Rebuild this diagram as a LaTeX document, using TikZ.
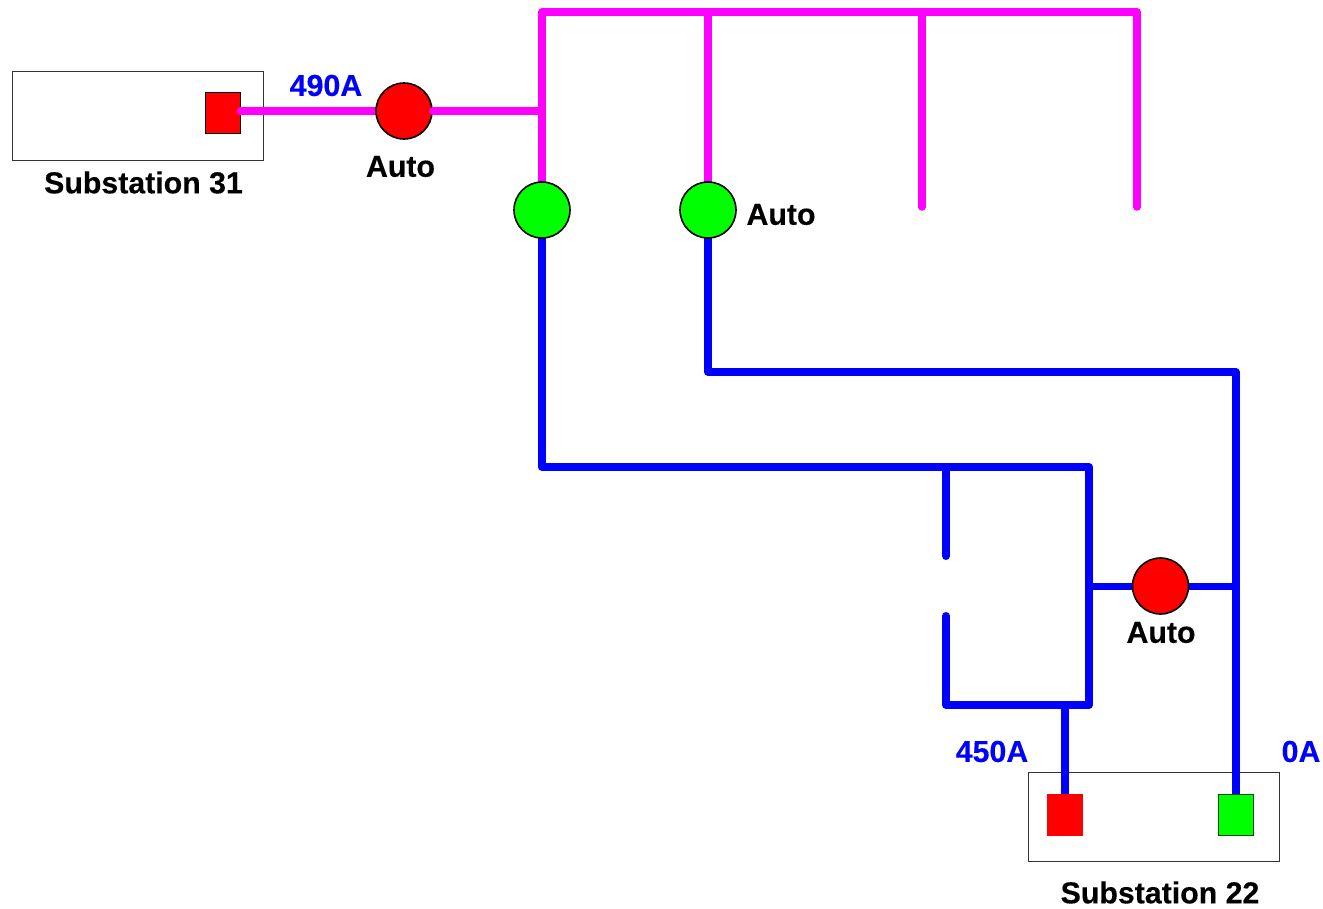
\documentclass[tikz,border=0pt]{standalone}
\usepackage{fontspec}
\usetikzlibrary{backgrounds}
\setmainfont[BoldFeatures={FakeBold=0.3}]{Liberation Sans}
\definecolor{busmagenta}{RGB}{255,0,255}

\begin{document}
\begin{tikzpicture}[x=1pt, y=-1pt,
        subbox/.style={draw=black!80, line width=0.8pt, minimum width=251pt, minimum height=89pt, inner sep=0pt},
        breaker/.style={draw=black, line width=1.6pt, circle, minimum size=56pt, inner sep=0pt},
        sqr/.style={line width=0.8pt, minimum width=35pt, minimum height=41pt, inner sep=0pt},
        feeder/.style={line width=7.5pt, line cap=round, line join=round},
        amps/.style={text=blue, font=\fontsize{30.3}{32}\selectfont\bfseries, inner sep=0pt},
        tag/.style={text=black, font=\fontsize{30.3}{32}\selectfont\bfseries, inner sep=0pt}
    ]
        \useasboundingbox (0,0) rectangle (1323,908);

        \node[sqr, draw=black, fill=red] (sq31) at (222.5,112.5) {};
        \node[sqr, draw=red, fill=red] (sq22a) at (1065,814.5) {};
        \node[sqr, draw=black!70!green, fill=green] (sq22b) at (1235.5,814.5) {};

        \node[breaker, fill=red] (auto31) at (404,111) {};
        \node[breaker, fill=green] (tie1) at (542,210) {};
        \node[breaker, fill=green] (tie2) at (708,210) {};
        \node[breaker, fill=red] (auto22) at (1160.5,586) {};

        \coordinate (topl) at (542,12);
        \coordinate (topa) at (708,12);
        \coordinate (topb) at (922,12);
        \coordinate (topc) at (1137,12);
        \coordinate (endb) at (922,207);
        \coordinate (endc) at (1137,207);
        \coordinate (feed) at (542,111);

        \coordinate (low1) at (542,467);
        \coordinate (low2) at (1089,467);
        \coordinate (low3) at (1089,705);
        \coordinate (low4) at (946,705);
        \coordinate (gap1) at (946,616);
        \coordinate (gap2) at (946,556);
        \coordinate (gap3) at (946,467);
        \coordinate (stem) at (1065,705);
        \coordinate (mid1) at (708,372);
        \coordinate (mid2) at (1235.5,372);
        \coordinate (tiel) at (1089,586);
        \coordinate (tier) at (1235.5,586);

        \begin{scope}[on background layer]
            \node[subbox] (sub31) at (137.5,115.5) {};
            \node[subbox] (sub22) at (1153.5,816.5) {};

            % magenta part
            \draw[feeder, busmagenta] (tie1.center) -- (topl) -- (topc) -- (endc);
            \draw[feeder, busmagenta] (topa) -- (tie2.center);
            \draw[feeder, busmagenta] (topb) -- (endb);
            \draw[feeder, busmagenta] (sq31.east |- auto31.center) -- (auto31.center);

            % blue part
            \draw[feeder, blue, line width=8pt] (tie1.center) -- (low1) -- (low2) -- (low3) -- (low4) -- (gap1);
            \draw[feeder, blue, line width=8pt] (gap3) -- (gap2);
            \draw[feeder, blue, line width=8pt] (tie2.center) -- (mid1) -- (mid2) -- (sq22b.center);
            \draw[feeder, blue] (stem) -- (sq22a.center);
            \draw[feeder, blue, line width=7pt] (tiel) -- (tier);
        \end{scope}

        % these two lie over the red shapes
        \draw[feeder, busmagenta] (sq31.east |- auto31.center) -- ++(20,0);
        \draw[feeder, busmagenta] (auto31.east) -- (feed);

        \node[amps] (amp490) at (326,85.5) {490A};
        \node[amps] (amp450) at (992,751.5) {450A};
        \node[amps] (amp0) at (1301,751.5) {0A};
        \node[tag] (lab31) at (143.5,182.5) {Substation 31};
        \node[tag] (lab22) at (1160,892.5) {Substation 22};
        \node[tag] (labauto1) at (400.5,166.5) {Auto};
        \node[tag] (labauto2) at (781,214.5) {Auto};
        \node[tag] (labauto3) at (1161,632.5) {Auto};
\end{tikzpicture}
\end{document}
